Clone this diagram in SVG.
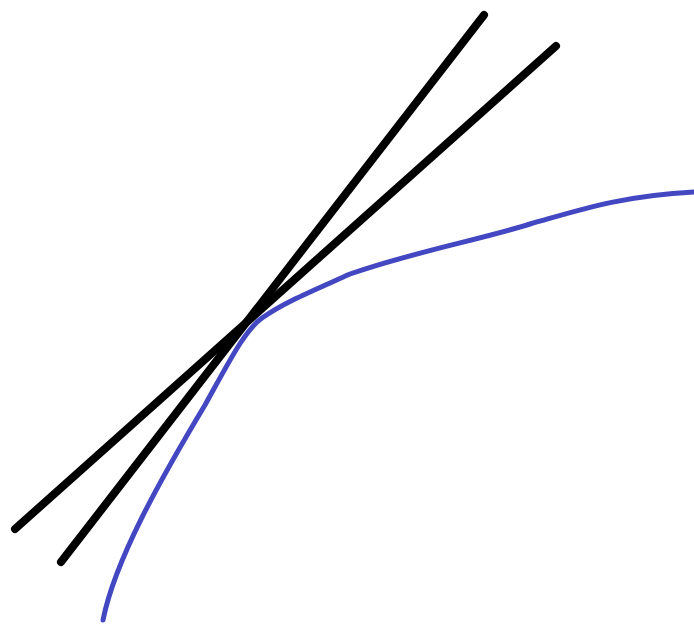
<svg xmlns="http://www.w3.org/2000/svg" width="694" height="628" viewBox="0 0 694 628">
<style>
.ln{stroke:#000;stroke-width:8;stroke-linecap:round;fill:none}
.cv{stroke:#4347c2;stroke-width:5;fill:none;stroke-linecap:round;stroke-linejoin:round}
</style>
<rect width="694" height="628" fill="#fff"/>
<g id="connectors">
<line id="tangent1" class="ln" x1="61" y1="562" x2="484" y2="15"/>
<line id="tangent2" class="ln" x1="15" y1="529" x2="556" y2="46"/>
<path id="curve" class="cv" d="M103,620 C115,560 160,480 205,405 C230,360 245,330 262,318 C285,302 310,292 350,274 C420,250 480,240 530,224 C580,210 620,196 694,192"/>
</g>
</svg>
